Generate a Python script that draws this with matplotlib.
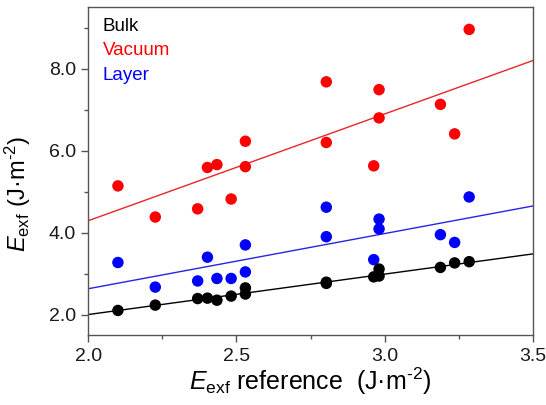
import numpy as np
import matplotlib
matplotlib.use("Agg")
import matplotlib.pyplot as plt

plt.rcParams['font.family'] = ['Liberation Sans', 'DejaVu Sans']
plt.rcParams['mathtext.fontset'] = 'custom'
plt.rcParams['mathtext.rm'] = 'Liberation Sans'
plt.rcParams['mathtext.it'] = 'Liberation Sans:italic'

# Exfoliation energies (J/m^2): reference vs. computed for three slab models
x_ref = [2.10, 2.226, 2.369, 2.402, 2.434, 2.482, 2.530, 2.530,
         2.803, 2.803, 2.963, 2.981, 2.981, 3.188, 3.236, 3.285]
bulk = [2.10, 2.23, 2.39, 2.40, 2.35, 2.45, 2.65, 2.50,
        2.79, 2.76, 2.92, 3.11, 2.94, 3.15, 3.26, 3.29]
vacuum = [5.14, 4.38, 4.58, 5.59, 5.66, 4.82, 6.23, 5.61,
          7.68, 6.20, 5.63, 7.49, 6.80, 7.13, 6.41, 8.96]
layer = [3.27, 2.67, 2.82, 3.40, 2.88, 2.88, 3.70, 3.04,
         4.62, 3.90, 3.34, 4.33, 4.09, 3.95, 3.76, 4.87]

# Linear trend lines, given by their values at x = 2.0 and x = 3.5
fit_x = [2.0, 3.5]
bulk_fit = [2.00, 3.48]
vacuum_fit = [4.29, 8.20]
layer_fit = [2.63, 4.65]

series_names = ["Bulk", "Vacuum", "Layer"]
colors = ["black", "#ff0000", "#0000ff"]
line_colors = ["black", "#e8262b", "#2525e6"]

fig = plt.figure(figsize=(5.46, 4.05), dpi=100)
ax = fig.add_axes([0.1617, 0.1728, 0.8143, 0.8092])

for ys, fit, c, lc in zip([vacuum, layer, bulk], [vacuum_fit, layer_fit, bulk_fit],
                          [colors[1], colors[2], colors[0]],
                          [line_colors[1], line_colors[2], line_colors[0]]):
    ax.plot(fit_x, fit, color=lc, lw=1.0, zorder=2)
    ax.scatter(x_ref, ys, s=68, color=c, edgecolors='none', zorder=3)

ax.set_xlim(2.0, 3.5)
ax.set_ylim(1.5, 9.5)
ax.set_xticks([2.0, 2.5, 3.0, 3.5])
ax.set_xticklabels(["2.0", "2.5", "3.0", "3.5"])
ax.set_yticks([2.0, 4.0, 6.0, 8.0])
ax.set_yticklabels(["2.0", "4.0", "6.0", "8.0"])
ax.set_xticks([2.25, 2.75, 3.25], minor=True)
ax.set_yticks([3.0, 5.0, 7.0, 9.0], minor=True)

for sp in ax.spines.values():
    sp.set_color('#555555')
    sp.set_linewidth(1.0)
ax.tick_params(which='major', direction='out', length=5, width=1.0,
               color='#555555', labelsize=14, labelcolor='#1a1a1a', pad=4)
ax.tick_params(which='minor', direction='out', length=3, width=1.0,
               color='#555555')

ax.set_xlabel('$\\mathit{E}_{\\mathrm{exf}}$ reference  (J·m$^{\\mathrm{\u20102}}$)',
              fontsize=18, labelpad=1)
ax.set_ylabel('$\\mathit{E}_{\\mathrm{exf}}$ (J·m$^{\\mathrm{\u20102}}$)',
              fontsize=17)
ax.yaxis.set_label_coords(-0.125, 0.432)

for i, (name, c) in enumerate(zip(series_names, colors)):
    ax.text(0.033, 0.942 - i * 0.075, name, color=c, fontsize=13.5,
            transform=ax.transAxes, va='center', ha='left')

fig.savefig("out.png", dpi=100)
